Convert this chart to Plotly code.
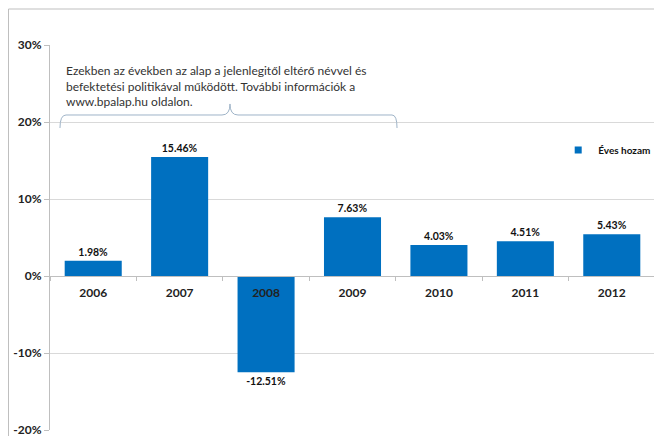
import plotly.graph_objects as go

years = ["2006", "2007", "2008", "2009", "2010", "2011", "2012"]
returns = [1.98, 15.46, -12.51, 7.63, 4.03, 4.51, 5.43]
labels = ["1.98%", "15.46%", "-12.51%", "7.63%", "4.03%", "4.51%", "5.43%"]
y_ticks = [-20, -10, 0, 10, 20, 30]
y_tick_text = ["-20%", "-10%", "0%", "10%", "20%", "30%"]
series_name = "Éves hozam"
note = ("Ezekben az években az alap a jelenlegitől eltérő névvel és<br>"
        "befektetési politikával működött. További információk a<br>"
        "www.bpalap.hu oldalon.")

FONT = "Lato, 'Open Sans', sans-serif"
BLUE = "#0070C0"

fig = go.Figure()
fig.add_trace(go.Bar(
    x=years, y=returns, name=series_name,
    marker=dict(color=BLUE, line=dict(width=0)),
    text=labels, textposition="outside", cliponaxis=False,
    textfont=dict(family=FONT, size=10.5, color="#111111", weight="bold"),
    showlegend=False,
))
# legend entry with a small square symbol
fig.add_trace(go.Scatter(
    x=[None], y=[None], mode="markers", name=series_name,
    marker=dict(symbol="square", size=7, color=BLUE),
    showlegend=True, hoverinfo="skip",
))

fig.update_layout(
    width=662, height=436,
    margin=dict(l=42, r=15, t=37, b=14, autoexpand=False),
    paper_bgcolor="white", plot_bgcolor="white",
    bargap=0.34,
    font=dict(family=FONT, color="#222222"),
    showlegend=True,
    legend=dict(x=0.84, y=0.727, xanchor="left", yanchor="middle",
                font=dict(family=FONT, size=10, color="#111111", weight="bold"),
                bgcolor="rgba(0,0,0,0)", itemwidth=30),
    xaxis=dict(
        anchor="free", position=0.4,
        showline=True, linecolor="#BFBFBF", linewidth=1,
        ticks="outside", ticklen=4, tickcolor="#BFBFBF", tickson="boundaries",
        ticklabelstandoff=6,
        tickfont=dict(family=FONT, size=12, color="#222222", weight="bold"),
        showgrid=False, zeroline=False, fixedrange=True,
    ),
    yaxis=dict(
        range=[-20, 30], tickvals=y_ticks, ticktext=y_tick_text,
        showline=True, linecolor="#BFBFBF", linewidth=1,
        ticks="outside", ticklen=5, tickcolor="#BFBFBF",
        tickfont=dict(family=FONT, size=12, color="#222222", weight="bold"),
        showgrid=True, gridcolor="#D9D9D9", gridwidth=1,
        zeroline=False, fixedrange=True,
    ),
)

fig.add_annotation(
    xref="paper", yref="paper", x=0.0248, y=0.955,
    xanchor="left", yanchor="top", align="left",
    text=note, showarrow=False, borderpad=0,
    font=dict(family=FONT, size=12, color="#333333"),
)

# curly brace
fig.add_shape(
    type="path", xref="paper", yref="paper",
    path=("M 0.0165,0.7844 Q 0.0165,0.8182 0.0265,0.8182 L 0.2843,0.8182 "
          "Q 0.2975,0.8182 0.2975,0.8468 Q 0.2975,0.8182 0.3107,0.8182 "
          "L 0.5653,0.8182 Q 0.5736,0.8182 0.5736,0.7844"),
    line=dict(color="#9FB4C8", width=1),
)

# outer frame (left and top)
fig.add_shape(type="line", xref="paper", yref="paper",
              x0=-0.0686, y0=1.0935, x1=-0.0686, y1=-0.05,
              line=dict(color="#BFBFBF", width=1))
fig.add_shape(type="line", xref="paper", yref="paper",
              x0=-0.0686, y0=1.0935, x1=1.03, y1=1.0935,
              line=dict(color="#BFBFBF", width=1))

fig.write_html("out.html")
